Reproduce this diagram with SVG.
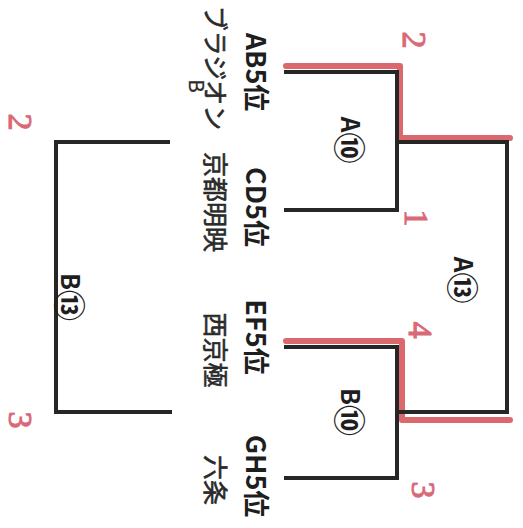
<svg xmlns="http://www.w3.org/2000/svg" width="523" height="528" viewBox="0 0 523 528">
<style>
.ln{fill:none;stroke:#262626;stroke-width:4;stroke-linecap:square}
.hl{fill:none;stroke:#d6585c;stroke-width:6;stroke-linecap:round;stroke-linejoin:round;opacity:0.9}
.lbl{font-family:"Noto Sans CJK JP","Liberation Sans",sans-serif;font-weight:bold;font-size:25px;fill:#1e1e1e}
.cn{font-family:"Noto Sans CJK JP","DejaVu Sans",sans-serif;font-weight:bold;font-size:31px}
.tm{font-family:"Noto Sans CJK JP","Liberation Sans",sans-serif;font-weight:bold;font-size:27px;fill:#1e1e1e}
.hw{font-family:"Noto Sans CJK JP",sans-serif;font-size:25px;fill:#2a2a2a;stroke:#2a2a2a;stroke-width:0.6}
.rn{font-family:"Liberation Serif","Noto Sans CJK JP",serif;font-size:34px;fill:#d86a78;stroke:#d86a78;stroke-width:1}
</style>
<rect width="523" height="528" fill="#ffffff"/>
<g id="connectors">
<path class="hl" d="M286,66 H400 V138 H510"/>
<path class="hl" d="M286,341 H402 V420 H510"/>
<path class="ln" d="M286,72 H397 V210 H286"/>
<path class="ln" d="M286,347 H397 V478 H286"/>
<path class="ln" d="M397,142 H507 V412 H397"/>
<path class="ln" d="M168,142 H56 V412 H170"/>
</g>
<g id="team-ab"><text class="tm" text-anchor="middle" dominant-baseline="central" transform="translate(257,72) rotate(90)">AB5位</text>
<text class="hw" text-anchor="middle" dominant-baseline="central" transform="translate(217,68) rotate(90)">ブラジオン</text>
<text class="hw" text-anchor="middle" dominant-baseline="central" style="font-size:20px;stroke-width:0.3" transform="translate(197,86) rotate(90)">B</text></g>
<g id="team-cd"><text class="tm" text-anchor="middle" dominant-baseline="central" transform="translate(257,207) rotate(90)">CD5位</text>
<text class="hw" text-anchor="middle" dominant-baseline="central" transform="translate(217,202) rotate(90)">京都明映</text></g>
<g id="team-ef"><text class="tm" text-anchor="middle" dominant-baseline="central" transform="translate(257,337) rotate(90)">EF5位</text>
<text class="hw" text-anchor="middle" dominant-baseline="central" transform="translate(217,350) rotate(90)">西京極</text></g>
<g id="team-gh"><text class="tm" text-anchor="middle" dominant-baseline="central" transform="translate(257,476) rotate(90)">GH5位</text>
<text class="hw" text-anchor="middle" dominant-baseline="central" transform="translate(217,480) rotate(90)">六条</text></g>
<g id="match-a10"><text class="lbl" text-anchor="middle" dominant-baseline="central" transform="translate(352,140) rotate(90)">A<tspan class="cn">⑩</tspan></text></g>
<g id="match-b10"><text class="lbl" text-anchor="middle" dominant-baseline="central" transform="translate(352,412) rotate(90)">B<tspan class="cn">⑩</tspan></text></g>
<g id="match-a13"><text class="lbl" text-anchor="middle" dominant-baseline="central" transform="translate(465,280) rotate(90)">A<tspan class="cn">⑬</tspan></text></g>
<g id="match-b13"><text class="lbl" text-anchor="middle" dominant-baseline="central" transform="translate(72,297) rotate(90)">B<tspan class="cn">⑬</tspan></text></g>
<g id="marks">
<text class="rn" text-anchor="middle" dominant-baseline="central" transform="translate(20,122) rotate(90)">2</text>
<text class="rn" text-anchor="middle" dominant-baseline="central" transform="translate(20,420) rotate(90)">3</text>
<text class="rn" text-anchor="middle" dominant-baseline="central" transform="translate(414,40) rotate(90)">2</text>
<text class="rn" text-anchor="middle" dominant-baseline="central" transform="translate(416,218) rotate(90)">1</text>
<text class="rn" text-anchor="middle" dominant-baseline="central" transform="translate(420,330) rotate(90)">4</text>
<text class="rn" text-anchor="middle" dominant-baseline="central" transform="translate(423,490) rotate(90)">3</text>
</g>
</svg>
